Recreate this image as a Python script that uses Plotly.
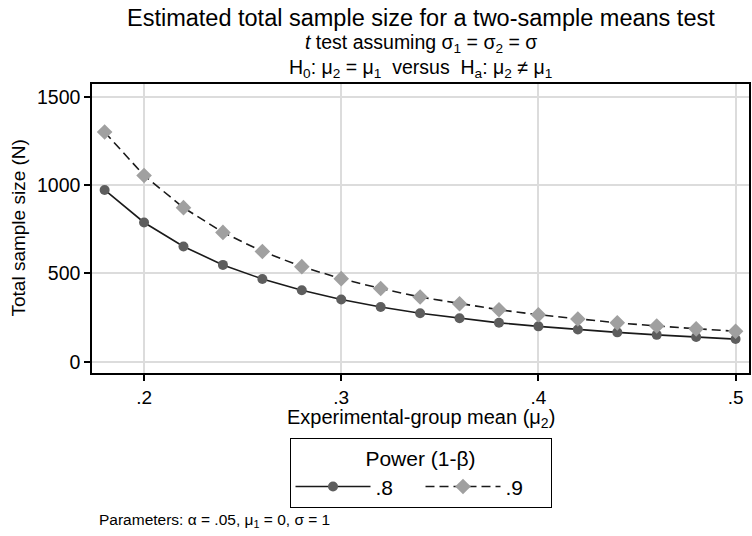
import plotly.graph_objects as go

# Data
mu2 = [0.18, 0.20, 0.22, 0.24, 0.26, 0.28, 0.30, 0.32, 0.34, 0.36,
       0.38, 0.40, 0.42, 0.44, 0.46, 0.48, 0.50]
n_power80 = [972, 788, 652, 548, 468, 404, 352, 310, 274, 246,
             220, 200, 182, 166, 152, 140, 128]
n_power90 = [1300, 1054, 872, 732, 624, 538, 470, 414, 366, 328,
             294, 266, 242, 220, 202, 186, 172]
x_tickvals = [0.2, 0.3, 0.4, 0.5]
x_ticktext = [".2", ".3", ".4", ".5"]
y_tickvals = [0, 500, 1000, 1500]
y_ticktext = ["0", "500", "1000", "1500"]

FONT = "Liberation Sans, Arial, Helvetica, sans-serif"

W, H = 752, 536
L, R, T, B = 92, 3, 84, 163
plot_w = W - L - R
plot_h = H - T - B

fig = go.Figure()
fig.add_trace(go.Scatter(
    x=mu2, y=n_power80, mode="lines+markers", name=".8",
    line=dict(color="#1a1a1a", width=1.6),
    marker=dict(symbol="circle", size=10, color="#5e5e5e"),
))
fig.add_trace(go.Scatter(
    x=mu2, y=n_power90, mode="lines+markers", name=".9",
    line=dict(color="#1a1a1a", width=1.6, dash="9px,5px"),
    marker=dict(symbol="diamond", size=12, color="#a0a0a0"),
))

def px_x(px):
    return (px - L) / plot_w

def px_y(py):
    return (H - B - py) / plot_h

center_x = px_x((L + W - R) / 2)

annotations = [
    dict(text="Estimated total sample size for a two-sample means test",
         x=center_x, y=px_y(18), xref="paper", yref="paper",
         xanchor="center", yanchor="middle", showarrow=False,
         font=dict(size=23.5, color="black", family=FONT)),
    dict(text="<i>t</i> test assuming σ<sub>1</sub> = σ<sub>2</sub> = σ",
         x=center_x, y=px_y(43), xref="paper", yref="paper",
         xanchor="center", yanchor="middle", showarrow=False,
         font=dict(size=19.5, color="black", family=FONT)),
    dict(text="H<sub>0</sub>: μ<sub>2</sub> = μ<sub>1</sub>  versus  H<sub>a</sub>: μ<sub>2</sub> ≠ μ<sub>1</sub>",
         x=center_x, y=px_y(68), xref="paper", yref="paper",
         xanchor="center", yanchor="middle", showarrow=False,
         font=dict(size=19.5, color="black", family=FONT)),
    dict(text="Experimental-group mean (μ<sub>2</sub>)",
         x=center_x, y=px_y(418), xref="paper", yref="paper",
         xanchor="center", yanchor="middle", showarrow=False,
         font=dict(size=20, color="black", family=FONT)),
    dict(text="Total sample size (N)", textangle=-90,
         x=px_x(18), y=px_y((T + H - B) / 2), xref="paper", yref="paper",
         xanchor="center", yanchor="middle", showarrow=False,
         font=dict(size=19, color="black", family=FONT)),
    dict(text="Parameters: α = .05, μ<sub>1</sub> = 0, σ = 1",
         x=px_x(97), y=px_y(520), xref="paper", yref="paper",
         xanchor="left", yanchor="middle", showarrow=False,
         font=dict(size=15.5, color="black", family=FONT)),
]

fig.update_layout(
    width=W, height=H,
    margin=dict(l=L, r=R, t=T, b=B, pad=0),
    paper_bgcolor="white", plot_bgcolor="white",
    font=dict(family=FONT, color="black", size=17),
    showlegend=True,
    legend=dict(
        orientation="h",
        x=center_x, xanchor="center",
        y=px_y(438), yanchor="top",
        bordercolor="black", borderwidth=1, bgcolor="white",
        font=dict(size=21, family=FONT, color="black"),
        title=dict(text="Power (1-β)", side="top center",
                   font=dict(size=21, family=FONT, color="black")),
        itemwidth=75,
        entrywidth=40,
        tracegroupgap=0,
    ),
    annotations=annotations,
)

fig.update_xaxes(
    range=[0.1736, 0.5068],
    tickvals=x_tickvals, ticktext=x_ticktext,
    showgrid=True, gridcolor="#dcdcdc", gridwidth=1.5,
    zeroline=False, automargin=False,
    showline=True, linecolor="black", linewidth=1.5, mirror=True,
    ticks="outside", ticklen=6, tickwidth=1.5, tickcolor="black",
    tickfont=dict(size=19, family=FONT, color="black"),
)
fig.update_yaxes(
    range=[-64, 1572],
    tickvals=y_tickvals, ticktext=y_ticktext,
    showgrid=True, gridcolor="#dcdcdc", gridwidth=1.5,
    zeroline=False, automargin=False,
    showline=True, linecolor="black", linewidth=1.5, mirror=True,
    ticks="outside", ticklen=6, tickwidth=1.5, tickcolor="black",
    tickfont=dict(size=19.5, family=FONT, color="black"),
)

fig.write_html(
    "out.html",
    config={"displayModeBar": False},
    post_script="document.body.style.margin='0';document.body.style.padding='0';",
)
